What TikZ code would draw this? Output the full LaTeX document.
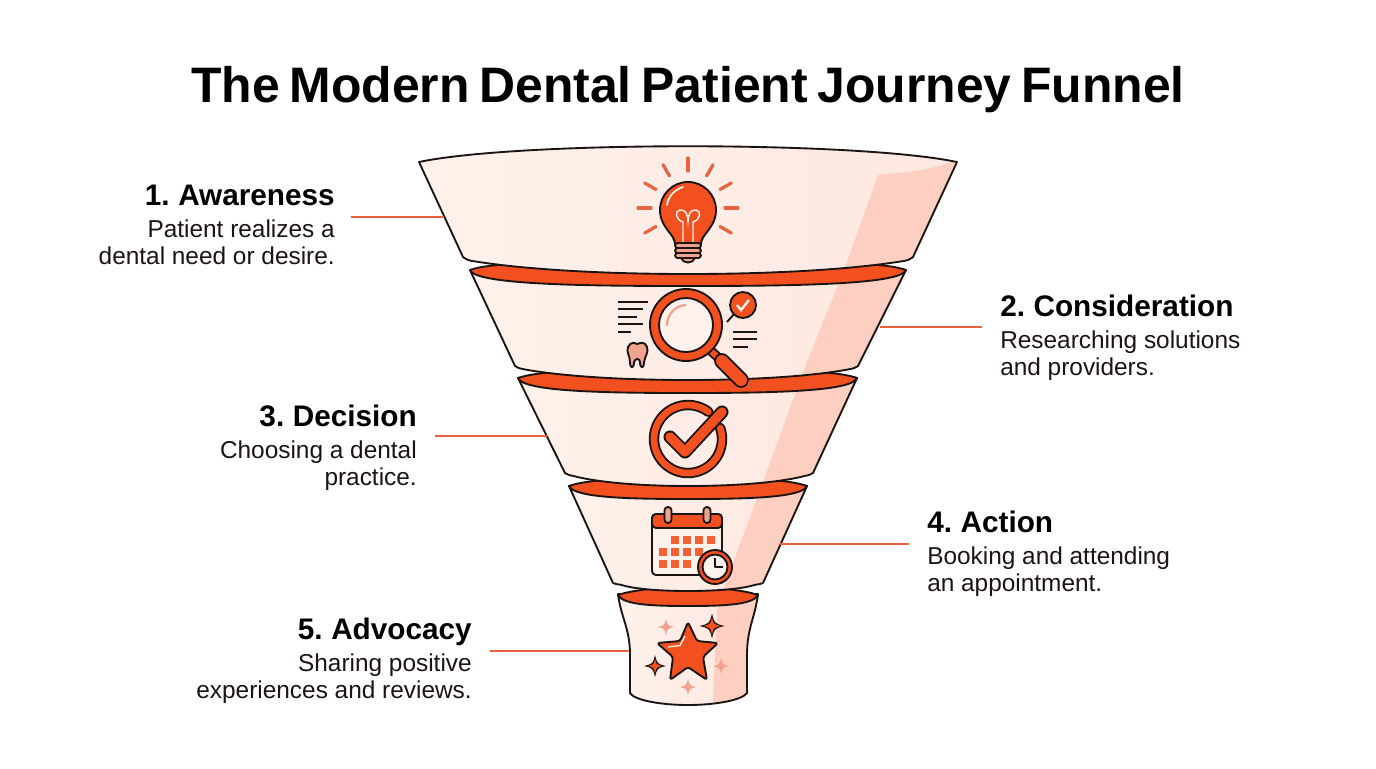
\documentclass[tikz,border=0pt]{standalone}
\usepackage{fontspec}
\setmainfont{Liberation Sans}[BoldFeatures={WordSpace=0.7}]
\usetikzlibrary{positioning}

\definecolor{flame}{HTML}{F2501F}
\definecolor{wire}{HTML}{E9613F}
\definecolor{peach}{HTML}{FDE8E1}
\definecolor{peachlight}{HTML}{FFF1EB}
\definecolor{stripe}{HTML}{FDCFC0}
\definecolor{salmon}{HTML}{F0A48F}
\definecolor{ink}{HTML}{1C1413}

\tikzset{
  headtext/.style={font=\fontsize{22.3}{26}\selectfont\bfseries,inner sep=0pt,text=black},
  bodytext/.style={font=\fontsize{18.3}{20.25}\selectfont,inner sep=0pt,text=ink},
  wireline/.style={draw=wire,line width=1.4pt},
  outline/.style={draw=ink,line width=1.4pt,line join=round},
  rayline/.style={draw=wire,line width=2.4pt,line cap=round}
}

% one funnel tier, clipped stripe included
\newcommand{\funnelseg}[8]{
  \def\segpath{(#1,#3) -- (#4,#6) .. controls (#4+2,#6+.1*#7-.1*#6) and (#4+4,#6+.17*#7-.17*#6) .. (#4+8,#6+.22*#7-.22*#6)
    .. controls (#4+.25*688-.25*#4,#6+.7*#7-.7*#6) and (#4+.6*688-.6*#4,#7) .. (688,#7)
    .. controls (#5+.6*688-.6*#5,#7) and (#5+.25*688-.25*#5,#6+.7*#7-.7*#6) .. (#5-8,#6+.22*#7-.22*#6)
    .. controls (#5-4,#6+.17*#7-.17*#6) and (#5-2,#6+.1*#7-.1*#6) .. (#5,#6) -- (#2,#3)
    .. controls (#2-100,#3-#8) and (#1+100,#3-#8) .. cycle}
  \begin{scope}
    \clip \segpath;
    \shade[left color=peachlight,right color=peach] (#1-5,#3-30) rectangle (#2+5,#7+5);
    \fill[stripe] \stripepath;
  \end{scope}
  \draw[outline] \segpath;
}
\newcommand{\funnelring}[4]{
  \draw[outline,fill=flame] (#1,#3) .. controls (#1+20,#3-7) and (#1+60,#3-8) .. (688,#3-8)
    .. controls (#2-60,#3-8) and (#2-20,#3-7) .. (#2,#3)
    .. controls (#2-5,#3+.9*#4) and (#2*.75+#1*.25,#3+#4) .. (688,#3+#4)
    .. controls (#1*.75+#2*.25,#3+#4) and (#1+5,#3+.9*#4) .. cycle;
}
\newcommand{\inked}[2]{
  \draw[ink,line width=#1+2.8pt,line cap=round,line join=round] #2;
  \draw[flame,line width=#1,line cap=round,line join=round] #2;
}
\newcommand{\sparkle}[4]{
  \fill[#4] (#1,#2-#3) .. controls (#1+.2*#3,#2-.2*#3) .. (#1+#3,#2)
    .. controls (#1+.2*#3,#2+.2*#3) .. (#1,#2+#3)
    .. controls (#1-.2*#3,#2+.2*#3) .. (#1-#3,#2)
    .. controls (#1-.2*#3,#2-.2*#3) .. cycle;
}
\def\stripepath{(878,175) .. controls (910,172) and (940,170) .. (965,155) -- (965,715) -- (712,715)
  -- (713,700) -- (717,610) -- (723,590) -- (763,482) -- (803,372) -- (844,270) -- cycle}

\begin{document}
\begin{tikzpicture}[x=.75pt,y=.75pt,yscale=-1]
  \useasboundingbox (0,0) rectangle (1376,768);
  \fill[white] (0,0) rectangle (1376,768);

  \node[font=\fontsize{37.4}{44}\selectfont\bfseries,inner sep=0pt,anchor=base] (title) at (688,102) {The Modern Dental Patient Journey Funnel};

  % funnel, bottom tier first
  \def\lastpath{(618,594) .. controls (621,618) and (630,628) .. (630,655) -- (630,693)
    .. controls (634,700) and (660,705) .. (688,705) .. controls (716,705) and (742,700) .. (747,693)
    -- (747,655) .. controls (747,628) and (755,618) .. (758,594) -- cycle}
  \begin{scope}
    \clip \lastpath;
    \shade[left color=peachlight,right color=peach] (610,590) rectangle (765,710);
    \fill[stripe] \stripepath;
  \end{scope}
  \draw[outline] \lastpath;
  \funnelring{618}{758}{595}{11}
  \foreach \xl/\xr/\ytop/\xbl/\xbr/\ybot/\ylow/\depth in
    {569/807/486/613/763/583/591/13, 518/857/378/565/813/473/486/15, 470/906/270/515/858/366/380/16}{
    \funnelseg{\xl}{\xr}{\ytop}{\xbl}{\xbr}{\ybot}{\ylow}{8}
    \funnelring{\xl}{\xr}{\ytop}{\depth}
  }
  \funnelseg{419}{957}{162}{463}{913}{257}{274}{21}

  % bulb
  \foreach \ang in {0,30,60,90,120,150,180,210,330}
    \draw[rayline] ([shift={(688,208)}]-\ang:37) -- ([shift={(688,208)}]-\ang:50);
  \draw[outline,fill=flame] (675,244) .. controls (675,234) and (660,228) .. (660,210)
    arc[start angle=180,end angle=360,radius=28] .. controls (716,228) and (701,234) .. (701,244) -- cycle;
  \draw[peachlight,line width=1.3pt,line cap=round] (667,205) .. controls (668,197) and (674,190) .. (683,187);
  \draw[peachlight,line width=1.1pt] (683,244) -- (683,222) .. controls (676,220) and (674,211) .. (680,210)
    .. controls (686,209) and (688,216) .. (688,221) .. controls (688,216) and (690,209) .. (696,210)
    .. controls (702,211) and (700,220) .. (693,222) -- (693,244);
  \foreach \yb in {243,248,253}
    \draw[outline,fill=salmon,rounded corners=2pt] (675,\yb) rectangle (701,\yb+5);
  \draw[outline,fill=salmon] (681,258) .. controls (683,264) and (693,264) .. (695,258) -- cycle;

  % magnifier
  \inked{4.5pt}{(711,351) -- (722,361)}
  \inked{9pt}{(722,361) -- (741,380)}
  \draw[outline,fill=flame] (686,325) circle[radius=36];
  \draw[outline,fill=peachlight] (686,325) circle[radius=27];
  \draw[salmon,line width=1.8pt,line cap=round] (667,325) arc[start angle=180,end angle=265,radius=20];
  \draw[outline] (727,322) -- (735,313);
  \draw[outline,fill=flame] (743,305) circle[radius=13];
  \draw[peachlight,line width=1.8pt] (737,305) -- (741,310) -- (749,300);
  \foreach \ya/\xe in {302/648,309/643,317/637,324/643,332/631}
    \draw[outline] (618,\ya) -- (\xe,\ya);
  \foreach \ya/\xe in {332/757,339/757,347/748}
    \draw[outline] (733,\ya) -- (\xe,\ya);
  \draw[outline,fill=salmon] (628,347) .. controls (631,341) and (635,343) .. (637,344)
    .. controls (640,343) and (645,341) .. (647,347) .. controls (649,352) and (645,356) .. (644,362)
    .. controls (644,369) and (640,369) .. (640,362) .. controls (640,358) and (635,358) .. (634,362)
    .. controls (634,369) and (630,369) .. (630,362) .. controls (630,356) and (626,352) .. (628,347) -- cycle;

  % checkmark
  \inked{5pt}{([shift={(688,439)}]-19:34) arc[start angle=-19,end angle=307,radius=34]}
  \inked{7pt}{(670,437) -- (685,452) -- (722,412)}

  % calendar
  \draw[outline,fill=peachlight,rounded corners=3pt] (652,514) rectangle (722,575);
  \draw[outline,fill=flame,rounded corners=3pt] (652,528) -- (652,514) -- (722,514) -- (722,528) -- cycle;
  \foreach \xa in {668,707}
    \draw[outline,fill=salmon,rounded corners=2.5pt] (\xa-3.5,507) rectangle (\xa+3.5,523);
  \foreach \xa/\ya in {675/540,687/540,699/540,711/540,663/552,675/552,687/552,699/552,663/564,675/564,687/564}
    \fill[flame!90!white] (\xa-4.2,\ya-4.2) rectangle (\xa+4.2,\ya+4.2);
  \draw[outline,fill=flame] (715,567) circle[radius=17];
  \draw[outline,fill=peachlight] (715,567) circle[radius=12.5];
  \draw[outline] (715,558) -- (715,567) -- (723,567);

  % star
  \sparkle{666}{627}{8}{salmon}
  \sparkle{721}{666}{8}{salmon}
  \sparkle{688}{687}{8}{salmon}
  \sparkle{712}{626}{12.5}{ink}
  \sparkle{712}{626}{8.5}{flame}
  \sparkle{655}{666}{11}{ink}
  \sparkle{655}{666}{7}{flame}
  \draw[outline,fill=flame,rounded corners=2pt] (688,622) -- (697,641) -- (718,643) -- (703,657)
    -- (707,680) -- (688,667) -- (670,680) -- (673,657) -- (657,643) -- (680,641) -- cycle;
  \draw[peachlight,line width=1pt] (668,647) -- (680,645.5) -- (685,636);

  % labels
  \node[headtext,anchor=base east] (awareness) at (335,205) {1. Awareness};
  \node[bodytext,align=right,below left=11pt and 0pt of awareness.base east] (awarenesstext) {Patient realizes a\\dental need or desire.};
  \node[headtext,anchor=base west] (consideration) at (1000,316) {2. Consideration};
  \node[bodytext,align=left,below right=11pt and 0pt of consideration.base west] (considerationtext) {Researching solutions\\and providers.};
  \node[headtext,anchor=base east] (decision) at (417,426) {3. Decision};
  \node[bodytext,align=right,below left=11pt and 0pt of decision.base east] (decisiontext) {Choosing a dental\\practice.};
  \node[headtext,anchor=base west] (action) at (927,532) {4. Action};
  \node[bodytext,align=left,below right=11pt and 0pt of action.base west] (actiontext) {Booking and attending\\an appointment.};
  \node[headtext,anchor=base east] (advocacy) at (472,639) {5. Advocacy};
  \node[bodytext,align=right,below left=11pt and 0pt of advocacy.base east] (advocacytext) {Sharing positive\\experiences and reviews.};

  % connectors
  \coordinate (awarenessfrom) at (351,217);
  \coordinate (awarenessto) at (444,217);
  \coordinate (considerationfrom) at (982,327);
  \coordinate (considerationto) at (880,327);
  \coordinate (decisionfrom) at (435,436);
  \coordinate (decisionto) at (547,436);
  \coordinate (actionfrom) at (909,544);
  \coordinate (actionto) at (780,544);
  \coordinate (advocacyfrom) at (490,651);
  \coordinate (advocacyto) at (629,651);
  \foreach \stage in {awareness,consideration,decision,action,advocacy}
    \draw[wireline] (\stage from) -- (\stage to);
\end{tikzpicture}
\end{document}
